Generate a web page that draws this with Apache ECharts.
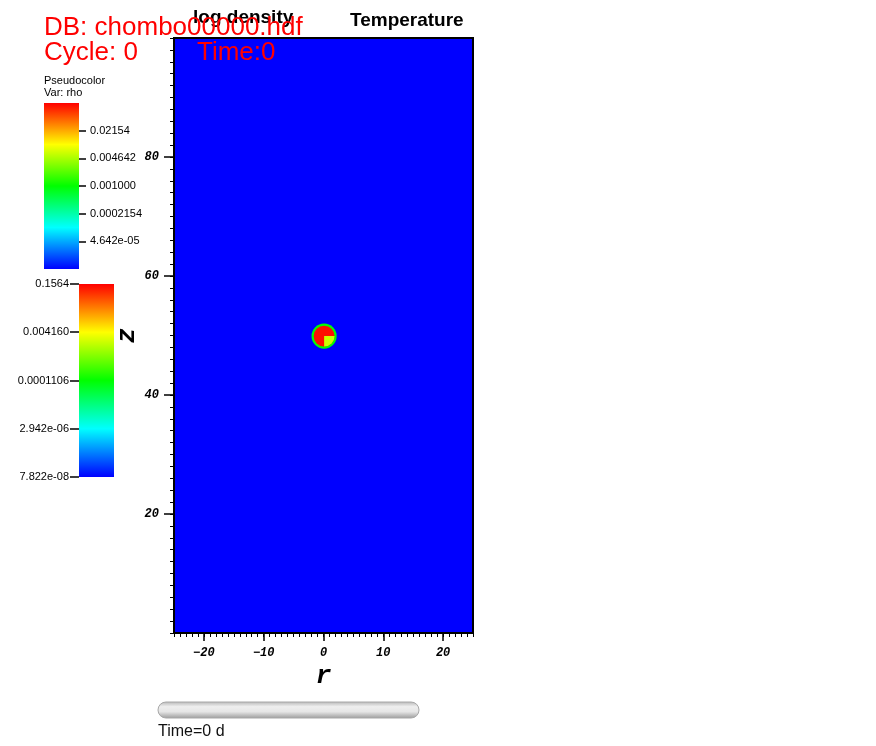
<!DOCTYPE html>
<html><head><meta charset="utf-8">
<script src="https://cdn.jsdelivr.net/npm/echarts@6/dist/echarts.min.js"></script>
<style>html,body{margin:0;padding:0;background:#fff}#c{width:876px;height:746px}</style>
</head><body><div id="c"></div>
<script>
// ---------------- data ----------------
const rExtent = [-25, 25];
const zExtent = [0, 100];
const rMajorTicks = [-20, -10, 0, 10, 20];
const zMajorTicks = [20, 40, 60, 80];
const ambientLogRho = -5;               // log10 density of the ambient medium
const clumpCenter = [0.1, 49.9];        // r, z of the dense clump
const clumpRadii = [2.1, 1.75];         // outer shell, core
const clumpLogRho = [-3.0, -1.05, -2.2];// shell, core, lower-right quadrant
const rhoBarRange = [-5, -1];           // log10 range of the rho colour bar
const rhoTickLabels = ['4.642e-05', '0.0002154', '0.001000', '0.004642', '0.02154'];
const tempTickLabels = ['7.822e-08', '2.942e-06', '0.0001106', '0.004160', '0.1564'];
const palette = ['#0000ff', '#00ffff', '#00ff00', '#ffff00', '#ff0000'];

// ---------------- build ----------------
const rhoTickVals = rhoTickLabels.map(s => Math.log10(parseFloat(s)));
const tempTickVals = tempTickLabels.map(s => Math.log10(parseFloat(s)));
const tempRange = [tempTickVals[0], tempTickVals[tempTickVals.length - 1]];

function nearestLabel(vals, labels) {
  return function (v) {
    let best = 0;
    for (let i = 1; i < vals.length; i++) if (Math.abs(vals[i] - v) < Math.abs(vals[best] - v)) best = i;
    return labels[best];
  };
}
const fieldKinds = ['rect', 'circle', 'circle', 'quadrant'];
const fieldData = [
  [rExtent[0], zExtent[0], rExtent[1], zExtent[1], ambientLogRho],
  [clumpCenter[0], clumpCenter[1], clumpRadii[0], 0, clumpLogRho[0]],
  [clumpCenter[0], clumpCenter[1], clumpRadii[1], 0, clumpLogRho[1]],
  [clumpCenter[0], clumpCenter[1], clumpRadii[1], 0, clumpLogRho[2]]
];
function renderField(params, api) {
  const kind = fieldKinds[params.dataIndex];
  const color = api.visual('color');
  if (kind === 'rect') {
    const p0 = api.coord([api.value(0), api.value(1)]);
    const p1 = api.coord([api.value(2), api.value(3)]);
    return { type: 'rect', shape: { x: Math.min(p0[0], p1[0]), y: Math.min(p0[1], p1[1]),
      width: Math.abs(p1[0] - p0[0]), height: Math.abs(p1[1] - p0[1]) }, style: { fill: color } };
  }
  const c = api.coord([api.value(0), api.value(1)]);
  const rad = api.size([api.value(2), 0])[0];
  if (kind === 'circle') return { type: 'circle', shape: { cx: c[0], cy: c[1], r: rad }, style: { fill: color } };
  return { type: 'sector', shape: { cx: c[0], cy: c[1], r0: 0, r: rad, startAngle: 0, endAngle: Math.PI / 2, clockwise: true }, style: { fill: color } };
}
function gradientFill() {
  return { type: 'linear', x: 0, y: 1, x2: 0, y2: 0, colorStops: palette.map((c, i) => ({ offset: i / (palette.length - 1), color: c })) };
}
function renderBar(params, api) {
  const p0 = api.coord([api.value(0), api.value(1)]);
  const p1 = api.coord([api.value(2), api.value(3)]);
  return { type: 'rect', shape: { x: Math.min(p0[0], p1[0]), y: Math.min(p0[1], p1[1]),
    width: Math.abs(p1[0] - p0[0]), height: Math.abs(p1[1] - p0[1]) }, style: { fill: gradientFill() } };
}
const tickFont = { fontFamily: 'Liberation Mono', fontWeight: 'bold', fontStyle: 'italic', fontSize: 12, color: '#000' };
const nameFont = { fontFamily: 'Liberation Mono', fontWeight: 'bold', fontStyle: 'italic', fontSize: 26, color: '#000' };
const legFont = { fontFamily: 'Liberation Sans', fontSize: 11, color: '#000' };
const minus = v => String(v).replace('-', '\u2212');
const txt = (x, y, text, size, fill, bold) => ({ type: 'text', z: 100,
  style: { x: x, y: y, text: text, fontFamily: 'Liberation Sans', fontWeight: bold ? 'bold' : 'normal', fontSize: size, fill: fill, verticalAlign: 'middle' } });

const chart = echarts.init(document.getElementById('c'));
chart.setOption({
  animation: false,
  backgroundColor: '#fff',
  grid: [
    { left: 174, top: 38, width: 299, height: 595, show: true, z: 10, borderColor: '#000', borderWidth: 2, backgroundColor: 'transparent' },
    { left: 44, top: 103, width: 35, height: 166 },
    { left: 79, top: 284, width: 35, height: 193 }
  ],
  xAxis: [
    { type: 'value', gridIndex: 0, min: rExtent[0], max: rExtent[1], position: 'bottom',
      axisLine: { show: false, onZero: false }, splitLine: { show: false },
      axisTick: { show: true, length: 8, customValues: rMajorTicks, lineStyle: { color: '#000', width: 1.5 } },
      axisLabel: Object.assign({ customValues: rMajorTicks, margin: 14, formatter: minus }, tickFont),
      name: 'r', nameLocation: 'middle', nameGap: 18, nameTextStyle: nameFont },
    { type: 'value', gridIndex: 0, min: rExtent[0], max: rExtent[1], interval: 1, position: 'bottom',
      axisLine: { show: false, onZero: false }, splitLine: { show: false }, axisLabel: { show: false },
      axisTick: { show: true, length: 4, lineStyle: { color: '#000', width: 1 } } },
    { type: 'value', gridIndex: 1, min: 0, max: 1, show: false },
    { type: 'value', gridIndex: 2, min: 0, max: 1, show: false }
  ],
  yAxis: [
    { type: 'value', gridIndex: 0, min: zExtent[0], max: zExtent[1], position: 'left',
      axisLine: { show: false, onZero: false }, splitLine: { show: false },
      axisTick: { show: true, length: 10, customValues: zMajorTicks, lineStyle: { color: '#000', width: 1.5 } },
      axisLabel: Object.assign({ customValues: zMajorTicks, margin: 15 }, tickFont),
      name: 'z', nameLocation: 'middle', nameGap: 32, nameTextStyle: nameFont },
    { type: 'value', gridIndex: 0, min: zExtent[0], max: zExtent[1], interval: 2, position: 'left',
      axisLine: { show: false, onZero: false }, splitLine: { show: false }, axisLabel: { show: false },
      axisTick: { show: true, length: 4, lineStyle: { color: '#000', width: 1 } } },
    { type: 'value', gridIndex: 1, min: rhoBarRange[0], max: rhoBarRange[1], position: 'right',
      axisLine: { show: false, onZero: false }, splitLine: { show: false },
      axisTick: { show: true, length: 7, customValues: rhoTickVals, lineStyle: { color: '#000', width: 1.5 } },
      axisLabel: Object.assign({ customValues: rhoTickVals, margin: 11, formatter: nearestLabel(rhoTickVals, rhoTickLabels) }, legFont) },
    { type: 'value', gridIndex: 2, min: tempRange[0], max: tempRange[1], position: 'left',
      axisLine: { show: false, onZero: false }, splitLine: { show: false },
      axisTick: { show: true, length: 9, customValues: tempTickVals, lineStyle: { color: '#000', width: 1.5 } },
      axisLabel: Object.assign({ customValues: tempTickVals, margin: 10, formatter: nearestLabel(tempTickVals, tempTickLabels) }, legFont) }
  ],
  visualMap: [{ type: 'continuous', show: false, seriesIndex: 0, dimension: 4, min: rhoBarRange[0], max: rhoBarRange[1], inRange: { color: palette } }],
  series: [
    { type: 'custom', xAxisIndex: 0, yAxisIndex: 0, clip: true, renderItem: renderField, data: fieldData, silent: true },
    { type: 'custom', xAxisIndex: 2, yAxisIndex: 2, renderItem: renderBar, data: [[0, rhoBarRange[0], 1, rhoBarRange[1]]], silent: true },
    { type: 'custom', xAxisIndex: 3, yAxisIndex: 3, renderItem: renderBar, data: [[0, tempRange[0], 1, tempRange[1]]], silent: true }
  ],
  graphic: [
    txt(193, 18, 'log density', 19, '#000', true),
    txt(350, 21, 'Temperature', 19, '#000', true),
    txt(44, 28, 'DB: chombo00000.hdf', 26, '#ff0000', false),
    txt(44, 53, 'Cycle: 0', 26, '#ff0000', false),
    txt(197, 53, 'Time:0', 26, '#ff0000', false),
    txt(44, 81, 'Pseudocolor', 11, '#000', false),
    txt(44, 93, 'Var: rho', 11, '#000', false),
    { type: 'rect', z: 100, shape: { x: 158, y: 702, width: 261, height: 16, r: 8 },
      style: { fill: { type: 'linear', x: 0, y: 0, x2: 0, y2: 1, colorStops: [
        { offset: 0, color: '#b4b4b4' }, { offset: 0.3, color: '#eeeeee' }, { offset: 0.6, color: '#e6e6e6' }, { offset: 1, color: '#9a9a9a' }] },
        stroke: '#a8a8a8', lineWidth: 1 } },
    txt(158, 732, 'Time=0 d', 16, '#111', false)
  ]
});
</script></body></html>
